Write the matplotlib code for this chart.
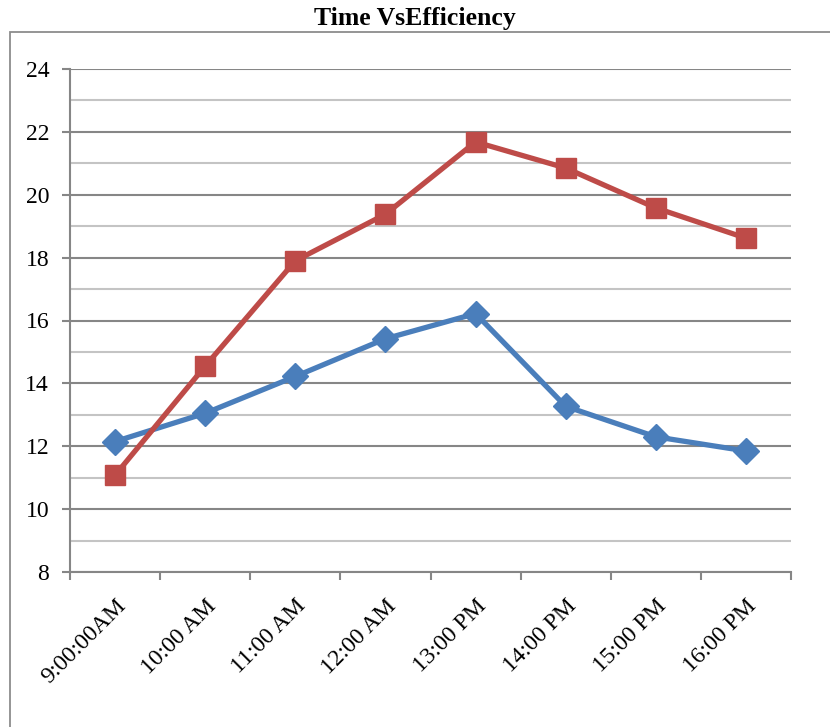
import matplotlib.pyplot as plt
import matplotlib.patches as patches
import numpy as np

times = ["9:00:00AM", "10:00 AM", "11:00 AM", "12:00 AM", "13:00 PM", "14:00 PM", "15:00 PM", "16:00 PM"]
blue_vals = [12.15, 13.05, 14.22, 15.42, 16.22, 13.27, 12.3, 11.85]
red_vals = [11.08, 14.55, 17.9, 19.38, 21.68, 20.85, 19.58, 18.62]

plt.rcParams['font.family'] = ['Liberation Serif', 'DejaVu Serif']

fig = plt.figure(figsize=(8.3, 7.27), dpi=100)
ax = fig.add_axes([70/830, 1-572/727, (791-70)/830, (572-69)/727])

# outer chart border
fig.patches.append(patches.Rectangle((10/830, -0.1), 1.0, 0.1 + 1-32/727, transform=fig.transFigure,
                                     fill=False, edgecolor='#8c8c8c', linewidth=1.3))

x = np.arange(len(times))
ax.plot(x, blue_vals, color='#4A7EBB', linewidth=3.8, marker='D', markersize=13, zorder=3)
ax.plot(x, red_vals, color='#BE4B48', linewidth=3.8, marker='s', markersize=14, zorder=4)

ax.set_xlim(-0.5, len(times) - 0.5)
ax.set_ylim(8, 24)
ax.set_yticks(np.arange(8, 25, 2))
ax.set_yticks(np.arange(9, 24, 2), minor=True)
ax.yaxis.grid(True, which='major', color='#868686', linewidth=1.5)
ax.yaxis.grid(True, which='minor', color='#c4c4c4', linewidth=1.5)
ax.set_axisbelow(True)

ax.set_xticks(x)
ax.set_xticklabels(times, rotation=45, ha='right', rotation_mode='anchor')
ax.set_xticks(np.arange(-0.5, len(times)), minor=True)
ax.tick_params(axis='x', which='major', length=0, pad=17, labelsize=17)
ax.tick_params(axis='x', which='minor', length=6, width=1.5, color='#868686')
ax.tick_params(axis='y', which='major', length=6, width=1.5, color='#868686', labelsize=17, pad=9)
ax.tick_params(axis='y', which='minor', length=0)

for s in ['top', 'right']:
    ax.spines[s].set_visible(False)
for s in ['left', 'bottom']:
    ax.spines[s].set_color('#868686')
    ax.spines[s].set_linewidth(1.5)

fig.text(0.5, 1-18/727, "Time VsEfficiency", ha='center', va='center', fontsize=18.5, fontweight='bold')

fig.savefig("out.png", dpi=100)
